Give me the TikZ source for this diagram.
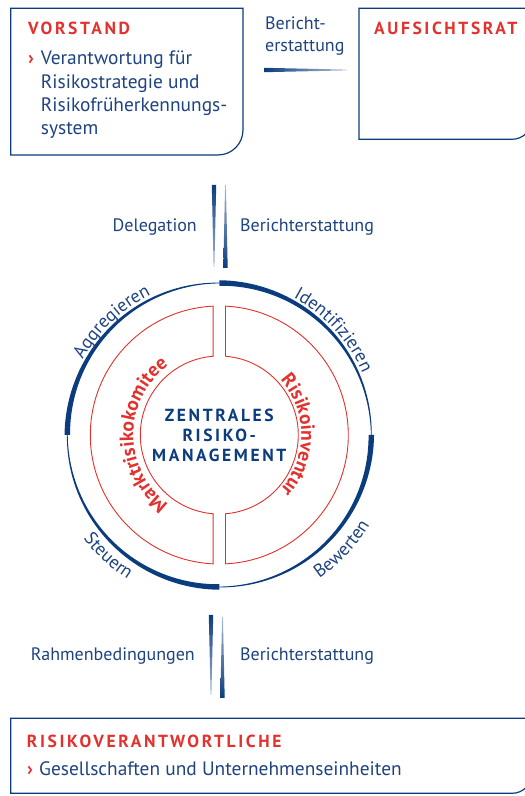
\documentclass[tikz,border=0pt]{standalone}
\usepackage{fontspec}
\setmainfont{PT Sans}
\newfontfamily\capsfont{PT Sans}[LetterSpace=15]
\usetikzlibrary{calc,decorations.text}

\definecolor{navy}{HTML}{0B3C7D}
\definecolor{ink}{HTML}{1E4380}
\definecolor{signal}{HTML}{E3312D}

\newcommand{\ringfont}{\fontsize{18.3}{20}\selectfont\color{ink}}
\newcommand{\redfont}{\bfseries\fontsize{19.5}{20}\selectfont\color{signal}}
\newcommand{\taper}[3]{\path[#3] ($(#1)!2.2pt!90:(#2)$) -- ($(#2)!0.4pt!-90:(#1)$) -- ($(#2)!0.4pt!90:(#1)$) -- ($(#1)!2.2pt!-90:(#2)$) -- cycle;}

\tikzset{
  boxline/.style={draw=navy, line width=1.2pt},
  redline/.style={draw=signal, line width=0.9pt},
  body/.style={anchor=base west, inner sep=0pt, text=ink, font=\fontsize{19.4}{23}\selectfont},
  label/.style={anchor=base west, inner sep=0pt, text=ink, font=\fontsize{18}{21}\selectfont},
  title/.style={anchor=base west, inner sep=0pt, text=signal, font=\capsfont\bfseries\fontsize{17.5}{20}\selectfont},
  bullet/.style={anchor=base west, inner sep=0pt, text=signal, font=\bfseries\fontsize{19}{21}\selectfont},
  hubtext/.style={align=center, inner sep=0pt, text=navy, font=\capsfont\bfseries\fontsize{17.5}{20}\selectfont},
  fadeh/.style={left color=navy, right color=navy!30},
  fadedown/.style={top color=navy, bottom color=navy!35},
  fadeup/.style={bottom color=navy, top color=navy!35}
}

\begin{document}
\begin{tikzpicture}[x=1pt,y=1pt]
\useasboundingbox (0,0) rectangle (525,796);
\clip (0,0) rectangle (525,796);

\draw[boxline] (10.7,641) -- (10.7,787.7) -- (243,787.7) -- (243,666) arc[start angle=0, end angle=-90, radius=25] -- cycle;
\draw[boxline] (359,656.7) -- (359,787.7) -- (532,787.7) -- (532,676.7) arc[start angle=0, end angle=-90, radius=20] -- cycle;
\draw[boxline] (10.7,2.7) -- (10.7,77.7) -- (532,77.7) -- (532,22.7) arc[start angle=0, end angle=-90, radius=20] -- cycle;

\node[title] (vorstand) at (28,761) {VORSTAND};
\node[bullet] (vbullet) at (28,731) {›};
\node[body] (v1) at (40.7,731) {Verantwortung für};
\node[body] (v2) at (40.7,707.7) {Risikostrategie und};
\node[body] (v3) at (40.7,684.3) {Risikofrüherkennungs-};
\node[body] (v4) at (40.7,661) {system};

\node[title] (aufsichtsrat) at (374,761) {AUFSICHTSRAT};
\node[label] (bericht) at (265,766) {Bericht-};
\node[label] (erstattung) at (265,744.3) {erstattung};

\node[label, anchor=base east] (delegation) at (197,564) {Delegation};
\node[label] (berichtoben) at (240,564) {Berichterstattung};
\node[label, anchor=base east] (rahmen) at (195,135) {Rahmenbedingungen};
\node[label] (berichtunten) at (240,135) {Berichterstattung};

\node[title] (risikoverantw) at (26.7,48) {RISIKOVERANTWORTLICHE};
\node[bullet] (rbullet) at (27,20.4) {›};
\node[body] (einheiten) at (39,20.4) {Gesellschaften und Unternehmenseinheiten};

\coordinate (vs-out) at (264,726);
\coordinate (ar-in) at (346.7,726);
\coordinate (dl-top) at (214,611);
\coordinate (dl-bot) at (214,529);
\coordinate (bo-top) at (225.5,611);
\coordinate (bo-bot) at (225.5,528);
\coordinate (rb-top) at (211,181);
\coordinate (rb-bot) at (211,101);
\coordinate (bu-top) at (222.5,179);
\coordinate (bu-bot) at (222.5,98);

\taper{vs-out}{ar-in}{fadeh}
\taper{dl-top}{dl-bot}{fadedown}
\taper{bo-bot}{bo-top}{fadeup}
\taper{rb-top}{rb-bot}{fadedown}
\taper{bu-bot}{bu-top}{fadeup}

\begin{scope}[shift={(219.3,361)}]
\foreach \s in {90,0,-90,-180} {
  \fill[navy] plot[domain=\s:\s-90, samples=46] (\x:{152.4+2.35*(\x-\s+90)/90})
    -- plot[domain=\s-90:\s, samples=46] (\x:{151.6-2.35*(\x-\s+90)/90}) -- cycle;
}

\draw[redline] (87.25:129) -- (85.5:79) arc[start angle=85.5, end angle=-85.5, radius=79]
  -- (-87.25:129) arc[start angle=-87.25, end angle=87.25, radius=129] -- cycle;
\draw[redline] (92.75:129) -- (94.5:79) arc[start angle=94.5, end angle=265.5, radius=79]
  -- (267.25:129) arc[start angle=267.25, end angle=92.75, radius=129] -- cycle;

\node[hubtext] (zrm) at (0,0) {ZENTRALES\\RISIKO-\\MANAGEMENT};

\path[decorate, decoration={text along path, text align=center, text={|\ringfont|Aggregieren}}]
  (170:156) arc[start angle=170, end angle=97, radius=156];
\path[decorate, decoration={text along path, text align=center, text={|\ringfont|Identifizieren}}]
  (80:156) arc[start angle=80, end angle=5, radius=156];
\path[decorate, decoration={text along path, text align=center, text={|\ringfont|Steuern}}]
  (190:171) arc[start angle=190, end angle=265, radius=171];
\path[decorate, decoration={text along path, text align=center, text={|\ringfont|Bewerten}}]
  (282:175) arc[start angle=282, end angle=352, radius=175];

\path[decorate, decoration={text along path, text align=center, text={|\redfont|Marktrisikokomitee}}]
  (250:86) arc[start angle=250, end angle=110, radius=86];
\path[decorate, decoration={text along path, text align=center, text={|\redfont|Risikoinventur}}]
  (70:82) arc[start angle=70, end angle=-70, radius=82];
\end{scope}
\end{tikzpicture}
\end{document}
